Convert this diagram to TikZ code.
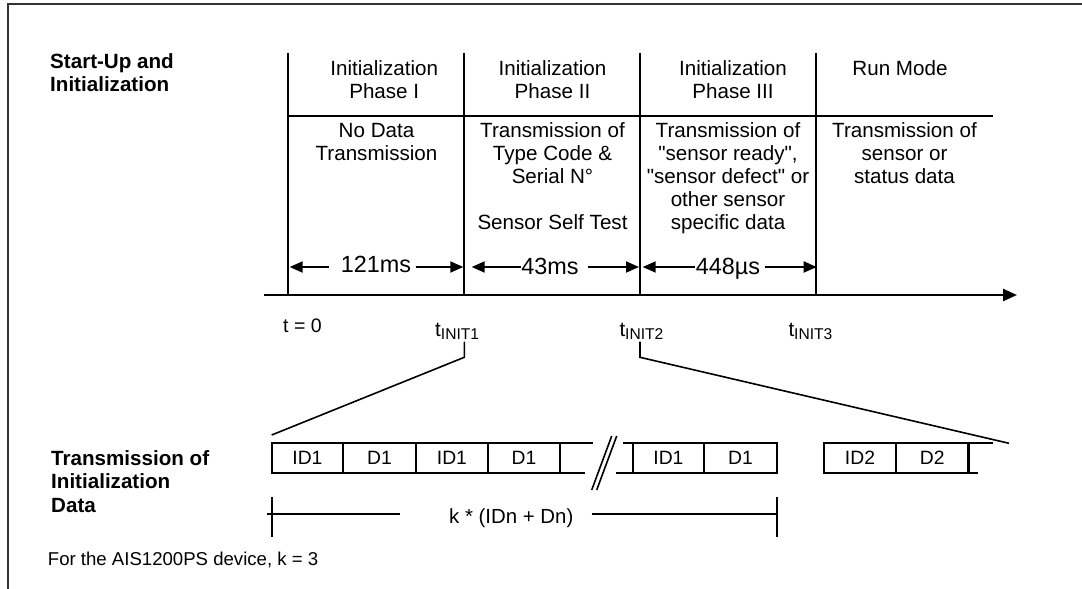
\documentclass[tikz,border=0pt]{standalone}
\usepackage{fontspec}
\setmainfont{Liberation Sans}[Ligatures=TeXOff]
\usetikzlibrary{arrows.meta}
\newcommand\cblock[1]{\vtop{\halign{\hfil##\hfil\cr#1\crcr}}}
\newcommand\lblock[1]{\vtop{\halign{##\hfil\cr#1\crcr}}}
\newcommand\tsub[1]{t\raisebox{-3.3pt}{\fontsize{15.6}{16}\selectfont #1}}
\begin{document}
\begin{tikzpicture}[x=1pt,y=-1pt,
  txt/.style={inner sep=0pt, anchor=base, font=\fontsize{20.6}{23}\selectfont},
  ltxt/.style={txt, anchor=base west},
  btxt/.style={ltxt, font=\fontsize{20.6}{23.5}\selectfont\bfseries},
  dimtxt/.style={txt, font=\fontsize{23.4}{26}\selectfont},
  celltxt/.style={txt, font=\fontsize{19.3}{22}\selectfont},
  frameline/.style={line width=2pt, draw=black!80},
  mainline/.style={line width=2.4pt},
  boxline/.style={line width=2.4pt},
  thinline/.style={line width=1.6pt},
  dimline/.style={line width=1.8pt},
  dimarrow/.style={line width=1.8pt, -{Triangle[length=13pt,width=11pt]}},
  axisarrow/.style={line width=2.4pt, -{Triangle[length=14pt,width=12pt]}}]
\useasboundingbox (0,0) rectangle (1082,589);
% frame
\draw[frameline] (8,589) -- (8,4) -- (1082,4);
% left headings
\node[btxt] (hdA) at (50,68) {\lblock{Start-Up and\cr Initialization}};
\node[btxt] (hdB) at (51,465) {\lblock{Transmission of\cr Initialization\cr Data}};
% timeline structure
\coordinate (ax0) at (264,295);
\coordinate (ax1) at (1017,295);
\foreach \n/\x in {v0/288,v1/464,v2/640,v3/816}{
  \coordinate (\n t) at (\x,53);
  \coordinate (\n b) at (\x,295);
  \draw[mainline] (\n t) -- (\n b);
}
\coordinate (hl0) at (288,116);
\coordinate (hl1) at (993,116);
\draw[mainline] (hl0) -- (hl1);
\draw[axisarrow] (ax0) -- (ax1);
% headers
\node[txt] (h1) at (384.2,75) {\cblock{Initialization\cr Phase I}};
\node[txt] (h2) at (552.5,75) {\cblock{Initialization\cr Phase II}};
\node[txt] (h3) at (733,75) {\cblock{Initialization\cr Phase III}};
\node[txt] (h4) at (900,75) {\cblock{Run Mode}};
% bodies
\node[txt] (b1) at (376.5,137) {\cblock{No Data\cr Transmission}};
\node[txt] (b2) at (552.5,137) {\cblock{Transmission of\cr Type Code \&\cr Serial N°\cr\cr Sensor Self Test}};
\node[txt] (b3) at (728,137) {\cblock{Transmission of\cr "sensor ready",\cr "sensor defect" or\cr other sensor\cr specific data}};
\node[txt] (b4) at (904.5,137) {\cblock{Transmission of\cr sensor or\cr status data}};
% durations
\node[dimtxt] (d1) at (376,272.5) {121ms};
\node[dimtxt] (d2) at (550,274) {43ms};
\node[dimtxt] (d3) at (728,274) {448µs};
\coordinate (d1l) at (329,267);  \coordinate (d1lt) at (289.6,267);
\coordinate (d1r) at (415.5,267); \coordinate (d1rt) at (463.3,267);
\coordinate (d2l) at (521,267);  \coordinate (d2lt) at (471.7,267);
\coordinate (d2r) at (588,267);  \coordinate (d2rt) at (639,267);
\coordinate (d3l) at (695,267);  \coordinate (d3lt) at (642.7,267);
\coordinate (d3r) at (765,267);  \coordinate (d3rt) at (816.7,267);
\foreach \a/\b in {d1l/d1lt,d1r/d1rt,d2l/d2lt,d2r/d2rt,d3l/d3lt,d3r/d3rt}
  \draw[dimarrow] (\a) -- (\b);
% time labels
\node[ltxt, font=\fontsize{19.5}{22}\selectfont] (t0) at (283,332) {t = 0};
\node[ltxt, font=\fontsize{20.6}{22}\selectfont] (ti1) at (435,336) {\tsub{INIT1}};
\node[ltxt, font=\fontsize{20.6}{22}\selectfont] (ti2) at (619.3,336) {\tsub{INIT2}};
\node[ltxt, font=\fontsize{20.6}{22}\selectfont] (ti3) at (788.3,336) {\tsub{INIT3}};
% zoom connectors
\coordinate (z1a) at (464.3,341.7); \coordinate (z1b) at (464.3,357.3); \coordinate (z1c) at (271.7,435);
\coordinate (z2a) at (640,341.7);   \coordinate (z2b) at (640,357.3);   \coordinate (z2c) at (1009,443.3);
\draw[thinline] (z1a) -- (z1b) -- (z1c);
\draw[thinline] (z2a) -- (z2b) -- (z2c);
% frame row A
\draw[boxline] (593,443) -- (271.7,443) -- (271.7,473) -- (585,473);
\foreach \x in {343,415.7,488,560} \draw[boxline] (\x,443) -- (\x,473);
\node[celltxt] (cA1) at (307.4,464) {ID1};
\node[celltxt] (cA2) at (379.4,464) {D1};
\node[celltxt] (cA3) at (451.9,464) {ID1};
\node[celltxt] (cA4) at (524,464) {D1};
% break mark
\coordinate (s1a) at (591.7,490); \coordinate (s1b) at (611.7,436);
\coordinate (s2a) at (596.7,490); \coordinate (s2b) at (616.7,436);
\draw[thinline] (s1a) -- (s1b);
\draw[thinline] (s2a) -- (s2b);
% frame row B
\draw[boxline] (623,443) -- (776.7,443) -- (776.7,473) -- (616,473);
\foreach \x in {632.7,704} \draw[boxline] (\x,443) -- (\x,473);
\node[celltxt] (cB1) at (668.4,464) {ID1};
\node[celltxt] (cB2) at (740.4,464) {D1};
% frame row C
\draw[boxline] (993,443) -- (824,443) -- (824,473) -- (977.7,473);
\foreach \x in {896,968.3} \draw[boxline] (\x,443) -- (\x,473);
\node[celltxt] (cC1) at (860,464) {ID2};
\node[celltxt] (cC2) at (932.2,464) {D2};
% k dimension
\node[ltxt, font=\fontsize{20.4}{22}\selectfont] (kt) at (449,523) {k * (IDn + Dn)};
\coordinate (kl0) at (266.7,514); \coordinate (kl1) at (400,514);
\coordinate (kr0) at (591.7,514); \coordinate (kr1) at (776.7,514);
\draw[dimline] (kl0) -- (kl1);
\draw[dimline] (kr0) -- (kr1);
\draw[dimline] (271.7,497) -- (271.7,537);
\draw[dimline] (776.7,497) -- (776.7,537);
% footnote
\node[ltxt, font=\fontsize{18.6}{21}\selectfont] (fn) at (47.7,565) {For the AIS1200PS device, k = 3};
\end{tikzpicture}
\end{document}
